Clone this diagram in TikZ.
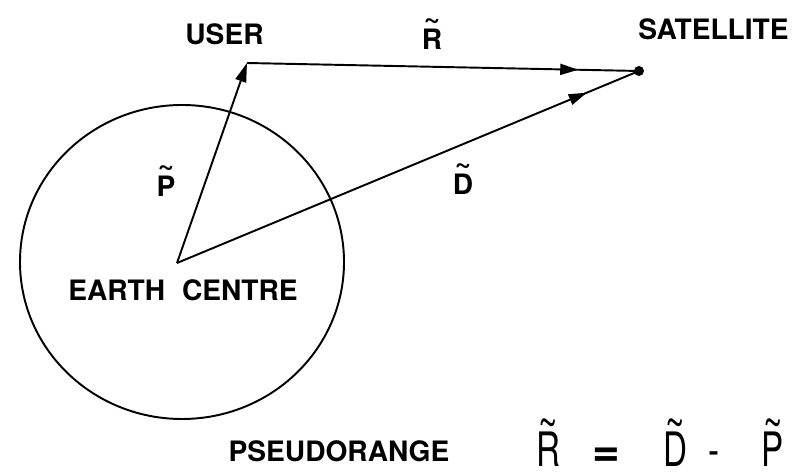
\documentclass[tikz,border=0pt]{standalone}
\usepackage{fontspec}
\setmainfont{TeX Gyre Heros}
\usetikzlibrary{arrows.meta, decorations.markings, positioning}

% letter with a tilde above it
\newcommand{\vtl}[2][0.8em]{\ooalign{#2\cr\hidewidth\raisebox{#1}{\textasciitilde}\hidewidth\cr}}

\begin{document}
\begin{tikzpicture}[
  lbl/.style={font=\fontsize{16}{18}\selectfont\bfseries, inner sep=0pt, anchor=base},
  eqlbl/.style={font=\fontsize{27}{30}\selectfont, inner sep=0pt, anchor=base},
  vec/.style={line width=1.1pt},
  tiparr/.style={vec, -{Triangle[length=0.38cm, width=0.22cm]}},
  midarr/.style={vec, postaction={decorate}, decoration={markings,
    mark=at position #1 with {\arrow{Triangle[length=0.36cm, width=0.22cm]}}}},
  satdot/.style={circle, fill, inner sep=0pt, minimum size=0.2cm},
]
\useasboundingbox (0,0) rectangle (15.96,9.5);
% ====== POINTS ======
\coordinate (earth_o) at (3.64, 4.26);
\coordinate (earth_c) at (3.54, 4.24);
\coordinate (user) at (4.94, 8.24);
\node[satdot] (sat) at (12.78, 8.08) {};
%
% ====== EARTH ======
\draw[vec] (earth_o) ellipse [x radius=3.24, y radius=3.14];
%
% ====== VECTORS ======
\draw[tiparr] (earth_c) -- (user);
\draw[midarr=0.845] (user) -- (sat.center);
\draw[midarr=0.887] (earth_c) -- (sat.center);
%
% ====== LABELS ======
\node[lbl] (lbl_user) at (4.49, 8.60) {USER};
\node[lbl] (lbl_sat) at (14.27, 8.70) {SATELLITE};
\node[lbl] (lbl_r) at (8.64, 8.50) {\vtl{R}};
\node[lbl] (lbl_p) at (3.32, 5.56) {\vtl{P}};
\node[lbl] (lbl_d) at (9.26, 5.60) {\vtl{D}};
\node[lbl] (lbl_earth) at (3.66, 3.48) {EARTH\hspace{0.6em}CENTRE};
%
% ====== EQUATION ======
\node[lbl] (lbl_pseudo) at (6.78, 0.26) {PSEUDORANGE};
\node[eqlbl] (eq_r) at (10.96, 0.16) {\scalebox{0.7}[1]{\vtl[0.57em]{R}}};
\node[eqlbl] (eq_eq) at (12.12, 0.16) {\bfseries =};
\node[eqlbl] (eq_d) at (13.50, 0.16) {\scalebox{0.7}[1]{\vtl[0.57em]{D}}};
\node[eqlbl] (eq_minus) at (14.28, 0.16) {\scalebox{0.7}[1]{-}};
\node[eqlbl] (eq_p) at (15.46, 0.16) {\scalebox{0.7}[1]{\vtl[0.57em]{P}}};
\end{tikzpicture}
\end{document}
